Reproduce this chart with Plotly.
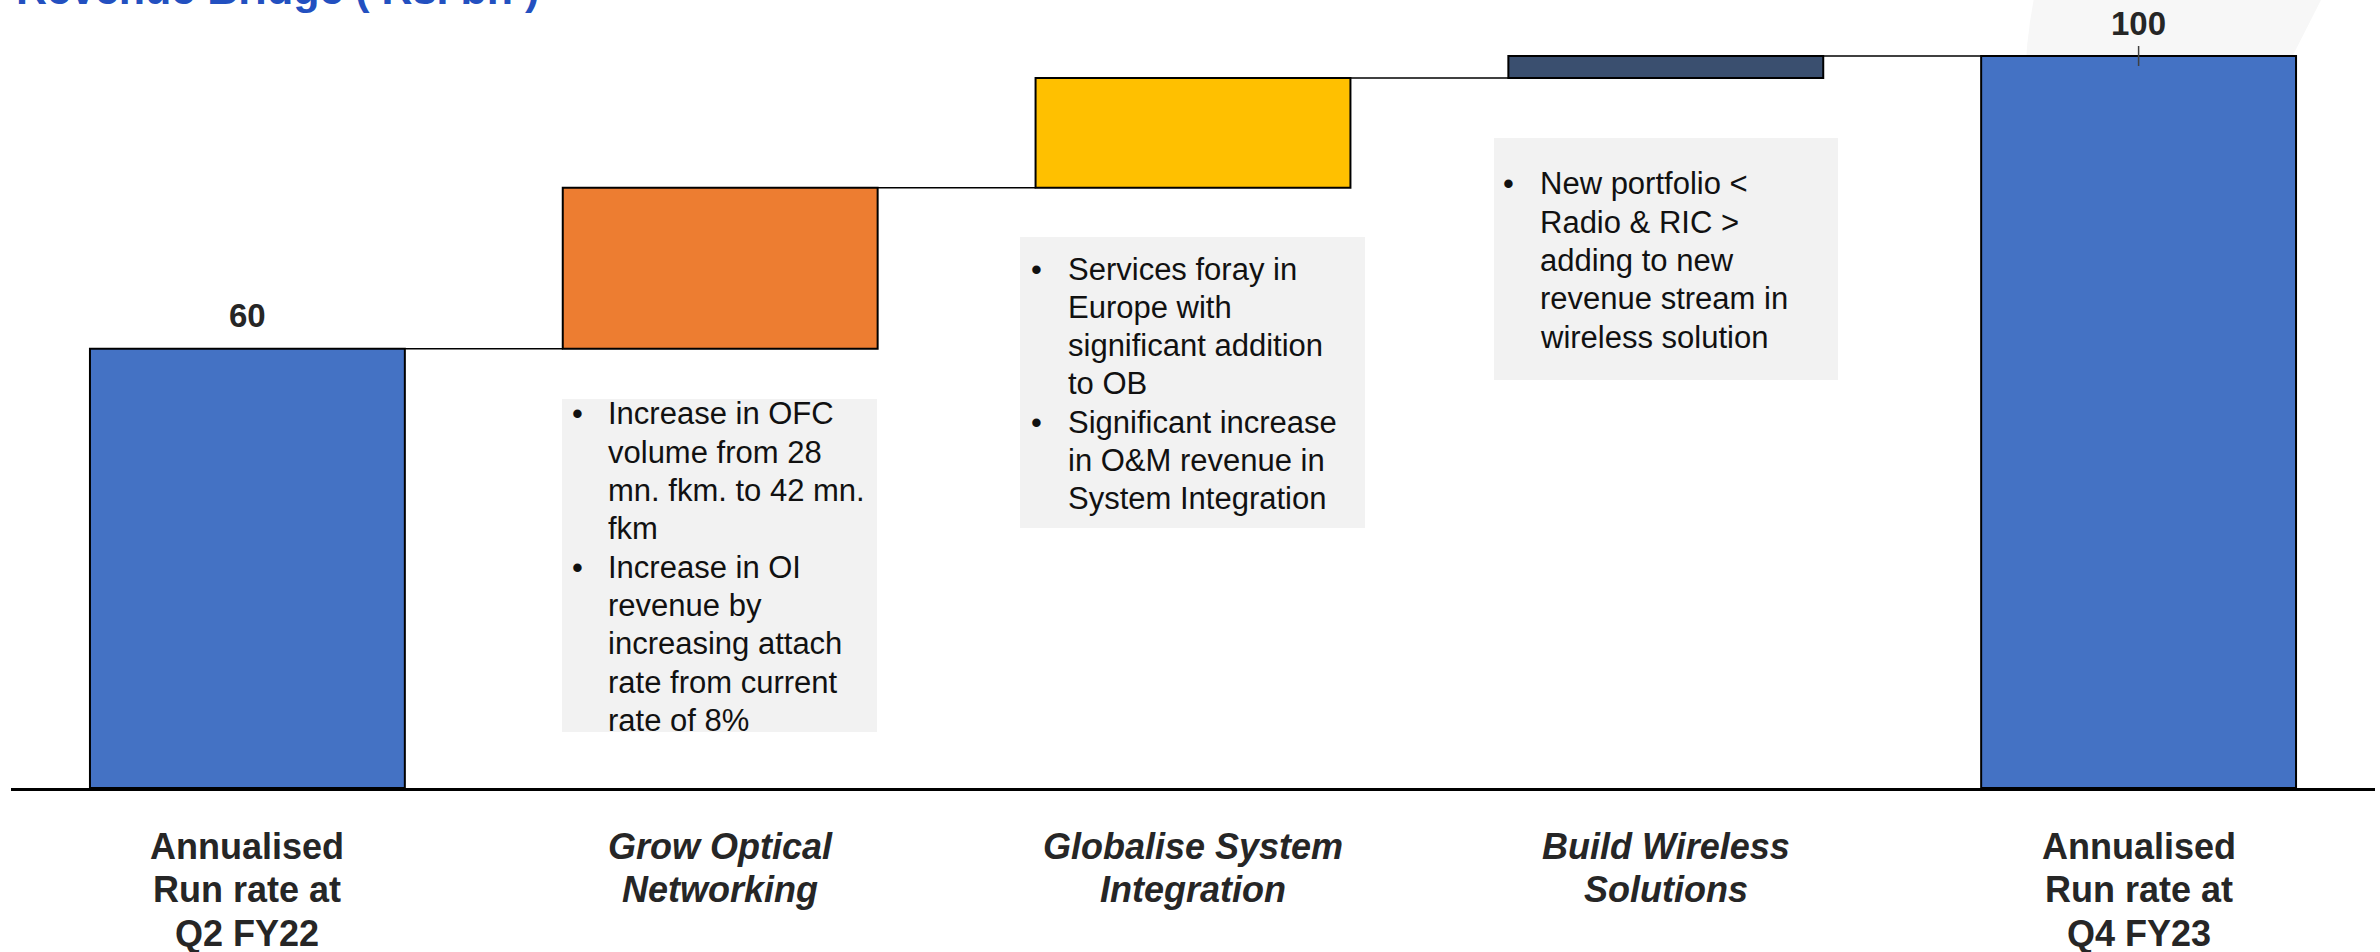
import plotly.graph_objects as go

# ---------------- data ----------------
categories = [
    "Annualised Run rate at Q2 FY22",
    "Grow Optical Networking",
    "Globalise System Integration",
    "Build Wireless Solutions",
    "Annualised Run rate at Q4 FY23",
]
values = [60, 22, 15, 3, 100]
measures = ["total", "relative", "relative", "relative", "total"]
bar_colors = ["#4472C4", "#ED7D31", "#FFC000", "#3A4F6F", "#4472C4"]
tick_lines = [
    ["Annualised", "Run rate at", "Q2 FY22"],
    ["Grow Optical", "Networking"],
    ["Globalise System", "Integration"],
    ["Build Wireless", "Solutions"],
    ["Annualised", "Run rate at", "Q4 FY23"],
]
tick_italic = [False, True, True, True, False]
title_text = "Revenue Bridge ( Rs. bn )"

note1_lines = ["Increase in OFC", "volume from 28", "mn. fkm. to 42 mn.", "fkm",
               "Increase in OI", "revenue by", "increasing attach", "rate from current",
               "rate of 8%"]
note1_bullets = [0, 4]
note2_lines = ["Services foray in", "Europe with", "significant addition", "to OB",
               "Significant increase", "in O&M revenue in", "System Integration"]
note2_bullets = [0, 4]
note3_lines = ["New portfolio <", "Radio & RIC >", "adding to new",
               "revenue stream in", "wireless solution"]
note3_bullets = [0]

# ---------------- derived bar geometry ----------------
bases, heights, running = [], [], 0
for v, m in zip(values, measures):
    if m == "total":
        bases.append(0)
        heights.append(v)
        running = v
    else:
        bases.append(running)
        heights.append(v)
        running += v
tops = [b + h for b, h in zip(bases, heights)]

# ---------------- layout geometry (pixels) ----------------
W, H = 2380, 952
L, R, T, B = 11, 5, 20, 164
PW, PH = W - L - R, H - T - B
PX_PER_UNIT = 7.32
YMAX = PH / PX_PER_UNIT
BAR_W = 0.666
FONT = "Arial, Liberation Sans, Helvetica, sans-serif"


def pxx(X):
    return (X - L) / PW


def pxy(Y):
    return (T + PH - Y) / PH


fig = go.Figure()
fig.add_trace(go.Bar(
    x=categories, y=heights, base=bases, width=BAR_W,
    marker=dict(color=bar_colors, line=dict(color="#000000", width=2)),
    hoverinfo="skip", showlegend=False,
))

shapes = []
annotations = []

# faint background decoration at top right
shapes.append(dict(
    type="path", xref="paper", yref="paper", layer="below",
    path=(f"M {pxx(2034)} {pxy(-2)} Q {pxx(2020)} {pxy(70)} {pxx(2028)} {pxy(140)} "
          f"L {pxx(2250)} {pxy(140)} L {pxx(2322)} {pxy(-2)} Z"),
    fillcolor="#F7F7F7", line=dict(width=0),
))

# connectors
for i in range(len(categories) - 1):
    shapes.append(dict(
        type="line", xref="x", yref="y",
        x0=i + BAR_W / 2, x1=i + 1 - BAR_W / 2, y0=tops[i], y1=tops[i],
        line=dict(color="#000000", width=1.5),
    ))

# value labels on totals
for i, m in enumerate(measures):
    if m == "total":
        annotations.append(dict(
            x=categories[i], y=tops[i], xref="x", yref="y",
            text=f"<b>{values[i]}</b>", showarrow=False,
            xanchor="center", yanchor="middle", yshift=33,
            font=dict(family=FONT, size=33, color="#262626"),
        ))
# small leader tick on the last total
shapes.append(dict(
    type="line", xref="x", yref="y",
    x0=len(categories) - 1, x1=len(categories) - 1,
    y0=tops[-1] - 10 / PX_PER_UNIT, y1=tops[-1] + 10 / PX_PER_UNIT,
    line=dict(color="#404040", width=1.5),
))

# category labels
for i, lines in enumerate(tick_lines):
    for j, ln in enumerate(lines):
        txt = f"<b><i>{ln}</i></b>" if tick_italic[i] else f"<b>{ln}</b>"
        annotations.append(dict(
            x=categories[i], xref="x", y=pxy(846 + j * 43.5), yref="paper",
            text=txt, showarrow=False, xanchor="center", yanchor="middle",
            font=dict(family=FONT, size=36, color="#262626"),
        ))


def add_note(box, lines, bullets, first_y, step, bullet_x, text_x):
    x0, y0, x1, y1 = box
    shapes.append(dict(
        type="rect", xref="paper", yref="paper", layer="below",
        x0=pxx(x0), x1=pxx(x1), y0=pxy(y1), y1=pxy(y0),
        fillcolor="#F2F2F2", line=dict(width=0),
    ))
    for k, ln in enumerate(lines):
        yy = pxy(first_y + k * step)
        if k in bullets:
            annotations.append(dict(
                x=pxx(bullet_x), y=yy, xref="paper", yref="paper", text="•",
                showarrow=False, xanchor="left", yanchor="middle",
                font=dict(family=FONT, size=31, color="#111111"),
            ))
        annotations.append(dict(
            x=pxx(text_x), y=yy, xref="paper", yref="paper",
            text=ln.replace("&", "&amp;").replace("<", "&lt;").replace(">", "&gt;"),
            showarrow=False, xanchor="left", yanchor="middle",
            font=dict(family=FONT, size=31, color="#111111"),
        ))


add_note((562, 399, 877, 732), note1_lines, note1_bullets, 414, 38.3, 570, 606)
add_note((1020, 237, 1365, 528), note2_lines, note2_bullets, 269, 38.3, 1029, 1066)
add_note((1494, 138, 1838, 380), note3_lines, note3_bullets, 184, 38.3, 1501, 1538)

# title (partially cut off at the top edge, as in the reference)
annotations.append(dict(
    x=pxx(14), y=pxy(-11), xref="paper", yref="paper",
    text=f"<b>{title_text}</b>", showarrow=False, xanchor="left", yanchor="middle",
    font=dict(family=FONT, size=43, color="#2350C0"),
))

fig.update_layout(
    width=W, height=H,
    margin=dict(l=L, r=R, t=T, b=B, pad=0),
    paper_bgcolor="#FFFFFF", plot_bgcolor="#FFFFFF",
    showlegend=False,
    bargap=1 - BAR_W,
    xaxis=dict(
        type="category", range=[-0.5, len(categories) - 0.5],
        showticklabels=False, ticks="", showgrid=False, zeroline=False,
        showline=True, linecolor="#000000", linewidth=3, fixedrange=True,
    ),
    yaxis=dict(
        range=[0, YMAX], showticklabels=False, ticks="", showgrid=False,
        zeroline=False, showline=False, fixedrange=True,
    ),
    shapes=shapes,
    annotations=annotations,
)

fig.write_html(
    "out.html",
    config={"displayModeBar": False},
    post_script="document.body.style.margin='0';document.body.style.overflow='hidden';",
)
